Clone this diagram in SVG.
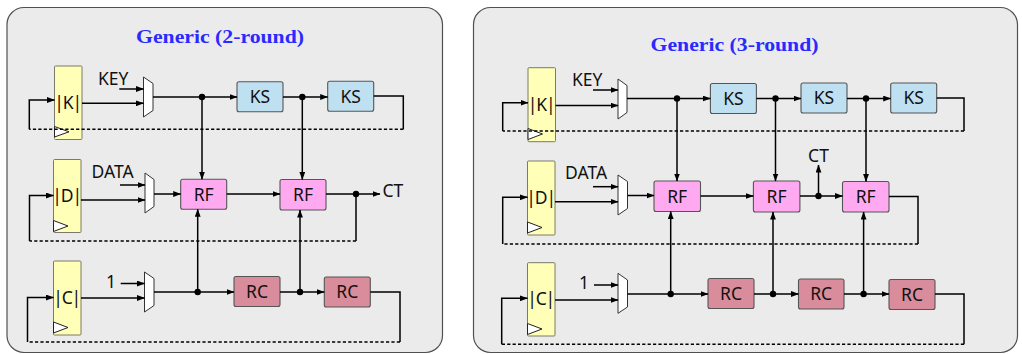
<svg xmlns="http://www.w3.org/2000/svg" width="1022" height="354" viewBox="0 0 1022 354">
<defs>
<marker id="ah" viewBox="0 0 8 6" refX="7.5" refY="3" markerWidth="8" markerHeight="6" markerUnits="userSpaceOnUse" orient="auto">
<path d="M0,0.1 L8,3 L0,5.9 z" fill="#000"/>
</marker>
<style>
.panel{fill:#ebebeb;stroke:#505050;stroke-width:1.2}
.title{font-family:"Liberation Serif",serif;font-weight:bold;font-size:19px;fill:#2a2aff;text-anchor:middle}
.reg{fill:#ffffb8;stroke:#7a7a6a;stroke-width:1}
.clk{fill:#fff;stroke:#222;stroke-width:1}
.mux{fill:#fff;stroke:#333;stroke-width:1}
.ks{fill:#bfe0f0;stroke:#555;stroke-width:1.1}
.rf{fill:#ffaaf0;stroke:#555;stroke-width:1.1}
.rc{fill:#d98c9c;stroke:#555;stroke-width:1.1}
.lbl{font-family:"Noto Sans","Open Sans",sans-serif;font-size:17.5px;fill:#111}
.rl{letter-spacing:-1.2px}
.ctr{text-anchor:middle}
.w{fill:none;stroke:#000;stroke-width:1.5}
.a{marker-end:url(#ah)}
.d{fill:none;stroke:#000;stroke-width:1.5;stroke-dasharray:3.2 2.2}
.dot{fill:#000}
</style>
</defs>

<!-- LEFT PANEL -->
<g id="panel-left">
<rect class="panel" x="7" y="7.5" width="435.5" height="345" rx="17"/>
<text class="title" x="220" y="43" textLength="168" lengthAdjust="spacingAndGlyphs">Generic (2-round)</text>
</g>
<g id="L-regK">
<rect class="reg" x="54.5" y="66" width="27.5" height="73.5" rx="1"/>
<text class="lbl ctr rl" x="67.6" y="108.8">|K|</text>
<polygon class="clk" points="54.5,126.5 69,131.8 54.5,137"/>
</g>
<g id="L-regD">
<rect class="reg" x="53.5" y="159.5" width="27.5" height="73" rx="1"/>
<text class="lbl ctr rl" x="66.6" y="202">|D|</text>
<polygon class="clk" points="53.5,220.5 68,226 53.5,231.5"/>
</g>
<g id="L-regC">
<rect class="reg" x="53.5" y="261" width="27.5" height="74" rx="1"/>
<text class="lbl ctr rl" x="66.6" y="304">|C|</text>
<polygon class="clk" points="53.5,322 68,327.5 53.5,333"/>
</g>
<g id="L-muxK"><polygon class="mux" points="143.5,77 153,83.5 153,110.5 143.5,117"/></g>
<g id="L-muxD"><polygon class="mux" points="145,173 154,179.5 154,206.5 145,213"/></g>
<g id="L-muxC"><polygon class="mux" points="144.5,272 154,278.5 154,305.5 144.5,312"/></g>
<g id="L-KS1"><rect class="ks" x="237" y="81.7" width="46" height="30" rx="2"/><text class="lbl ctr" x="260" y="103">KS</text></g>
<g id="L-KS2"><rect class="ks" x="327.7" y="81.2" width="46" height="30" rx="2"/><text class="lbl ctr" x="350.7" y="102.5">KS</text></g>
<g id="L-RF1"><rect class="rf" x="180.7" y="179.3" width="46" height="30" rx="2"/><text class="lbl ctr" x="203.7" y="200.6">RF</text></g>
<g id="L-RF2"><rect class="rf" x="280" y="179.5" width="46" height="30.5" rx="2"/><text class="lbl ctr" x="303" y="200.9">RF</text></g>
<g id="L-RC1"><rect class="rc" x="234" y="276.5" width="46" height="30" rx="2"/><text class="lbl ctr" x="257" y="297.8">RC</text></g>
<g id="L-RC2"><rect class="rc" x="324.3" y="277" width="46" height="30" rx="2"/><text class="lbl ctr" x="347.3" y="298.3">RC</text></g>
<g id="L-labels">
<text class="lbl" x="98" y="85">KEY</text>
<text class="lbl" x="91.5" y="178.3">DATA</text>
<text class="lbl" x="106" y="287.5">1</text>
<text class="lbl" x="382.5" y="197">CT</text>
</g>

<!-- RIGHT PANEL -->
<g id="panel-right">
<rect class="panel" x="473.5" y="7.5" width="544" height="345" rx="17"/>
<text class="title" x="734.5" y="50.5" textLength="168" lengthAdjust="spacingAndGlyphs">Generic (3-round)</text>
</g>
<g id="R-regK">
<rect class="reg" x="528" y="67.7" width="27.5" height="74" rx="1"/>
<text class="lbl ctr rl" x="541.1" y="110.5">|K|</text>
<polygon class="clk" points="528,128.5 542.5,134 528,139.5"/>
</g>
<g id="R-regD">
<rect class="reg" x="527.5" y="161" width="27.5" height="74" rx="1"/>
<text class="lbl ctr rl" x="540.6" y="203.8">|D|</text>
<polygon class="clk" points="527.5,222 542,227.5 527.5,233"/>
</g>
<g id="R-regC">
<rect class="reg" x="527.5" y="262.7" width="27.5" height="73.3" rx="1"/>
<text class="lbl ctr rl" x="540.6" y="305">|C|</text>
<polygon class="clk" points="527.5,323.5 542,329 527.5,334.5"/>
</g>
<g id="R-muxK"><polygon class="mux" points="618,79 627,85.5 627,112.5 618,119"/></g>
<g id="R-muxD"><polygon class="mux" points="618,175 627.5,181.5 627.5,208.5 618,215"/></g>
<g id="R-muxC"><polygon class="mux" points="618,273.3 627.5,280 627.5,307 618,313.3"/></g>
<g id="R-KS1"><rect class="ks" x="710.4" y="83.5" width="46" height="30" rx="2"/><text class="lbl ctr" x="733.4" y="104.8">KS</text></g>
<g id="R-KS2"><rect class="ks" x="801" y="83" width="46" height="30" rx="2"/><text class="lbl ctr" x="824" y="104.3">KS</text></g>
<g id="R-KS3"><rect class="ks" x="890.7" y="83" width="46" height="30" rx="2"/><text class="lbl ctr" x="913.7" y="104.3">KS</text></g>
<g id="R-RF1"><rect class="rf" x="654" y="181" width="46.5" height="30.5" rx="2"/><text class="lbl ctr" x="677.2" y="202.5">RF</text></g>
<g id="R-RF2"><rect class="rf" x="753.4" y="181" width="46.5" height="31" rx="2"/><text class="lbl ctr" x="776.6" y="202.7">RF</text></g>
<g id="R-RF3"><rect class="rf" x="842.5" y="181.5" width="46.5" height="30.5" rx="2"/><text class="lbl ctr" x="865.7" y="203">RF</text></g>
<g id="R-RC1"><rect class="rc" x="708" y="278.5" width="46" height="30" rx="2"/><text class="lbl ctr" x="731" y="299.8">RC</text></g>
<g id="R-RC2"><rect class="rc" x="798.5" y="279" width="45.5" height="30" rx="2"/><text class="lbl ctr" x="821.2" y="300.3">RC</text></g>
<g id="R-RC3"><rect class="rc" x="889" y="279.5" width="46" height="30" rx="2"/><text class="lbl ctr" x="912" y="300.8">RC</text></g>
<g id="R-labels">
<text class="lbl" x="572" y="86">KEY</text>
<text class="lbl" x="565" y="179">DATA</text>
<text class="lbl" x="579" y="288.5">1</text>
<text class="lbl ctr" x="818.5" y="161.5">CT</text>
</g>

<!-- CONNECTORS -->
<g id="connectors">
<!-- left: key path -->
<path class="w a" d="M119.3,89 H143.5"/>
<path class="w a" d="M82,103.3 H143.5"/>
<path class="w a" d="M153,97 H237"/>
<path class="w a" d="M283,97 H327.7"/>
<path class="w" d="M373.7,96 H403.3 V129.3"/>
<path class="d" d="M403.3,129.3 H29.3"/>
<path class="w a" d="M29.3,129.3 V100 H54.5"/>
<path class="w a" d="M202,97 V179.3"/>
<path class="w a" d="M302.3,97 V179.5"/>
<!-- left: data path -->
<path class="w a" d="M120,185 H145"/>
<path class="w a" d="M81,200 H145"/>
<path class="w a" d="M154,194 H180.7"/>
<path class="w a" d="M226.7,194 H280"/>
<path class="w a" d="M326,194 H380"/>
<path class="w" d="M356,194 V241"/>
<path class="d" d="M356,241 H29.5"/>
<path class="w a" d="M29.5,241 V195.5 H53.5"/>
<!-- left: counter path -->
<path class="w a" d="M120.7,283.5 H144.5"/>
<path class="w a" d="M81,298 H144.5"/>
<path class="w a" d="M154,292 H234"/>
<path class="w a" d="M280,292 H324.3"/>
<path class="w" d="M370.3,292 H400 V342"/>
<path class="d" d="M400,342 H27.5"/>
<path class="w a" d="M27.5,342 V297.5 H53.5"/>
<path class="w a" d="M197.7,292 V209.3"/>
<path class="w a" d="M300,292 V210"/>
<circle class="dot" cx="202" cy="97" r="3.2"/>
<circle class="dot" cx="302.3" cy="97" r="3.2"/>
<circle class="dot" cx="356" cy="194" r="3.2"/>
<circle class="dot" cx="197.7" cy="292" r="3.2"/>
<circle class="dot" cx="300" cy="292" r="3.2"/>

<!-- right: key path -->
<path class="w a" d="M593,90 H618"/>
<path class="w a" d="M555.5,105.5 H618"/>
<path class="w a" d="M627,98.5 H710.4"/>
<path class="w a" d="M756.4,98.5 H801"/>
<path class="w a" d="M847,98.5 H890.7"/>
<path class="w" d="M936.7,98 H964 V131"/>
<path class="d" d="M964,131 H502.7"/>
<path class="w a" d="M502.7,131 V102.7 H528"/>
<path class="w a" d="M677,98.5 V181"/>
<path class="w a" d="M775.5,98.5 V181"/>
<path class="w a" d="M866,98.5 V181.5"/>
<!-- right: data path -->
<path class="w a" d="M593,186.7 H618"/>
<path class="w a" d="M555,201.7 H618"/>
<path class="w a" d="M627.5,195.5 H654"/>
<path class="w a" d="M700.5,196 H753.4"/>
<path class="w a" d="M800,196 H842.5"/>
<path class="w a" d="M818.5,196 V165"/>
<path class="w" d="M889,196.5 H918 V244"/>
<path class="d" d="M918,244 H502.7"/>
<path class="w a" d="M502.7,244 V197.3 H527.5"/>
<!-- right: counter path -->
<path class="w a" d="M594,285 H618"/>
<path class="w a" d="M555,300 H618"/>
<path class="w a" d="M627.5,294 H708"/>
<path class="w a" d="M754,294 H798.5"/>
<path class="w a" d="M844,294 H889"/>
<path class="w" d="M935,294 H964 V344.3"/>
<path class="d" d="M964,344.3 H501.7"/>
<path class="w a" d="M501.7,344.3 V298.3 H527.5"/>
<path class="w a" d="M670.7,294 V211.5"/>
<path class="w a" d="M773,294 V212"/>
<path class="w a" d="M863.6,294 V212"/>
<circle class="dot" cx="677" cy="98.5" r="3.2"/>
<circle class="dot" cx="775.5" cy="98.5" r="3.2"/>
<circle class="dot" cx="866" cy="98.5" r="3.2"/>
<circle class="dot" cx="818.5" cy="196" r="3.2"/>
<circle class="dot" cx="670.7" cy="294" r="3.2"/>
<circle class="dot" cx="773" cy="294" r="3.2"/>
<circle class="dot" cx="863.6" cy="294" r="3.2"/>
</g>
</svg>
